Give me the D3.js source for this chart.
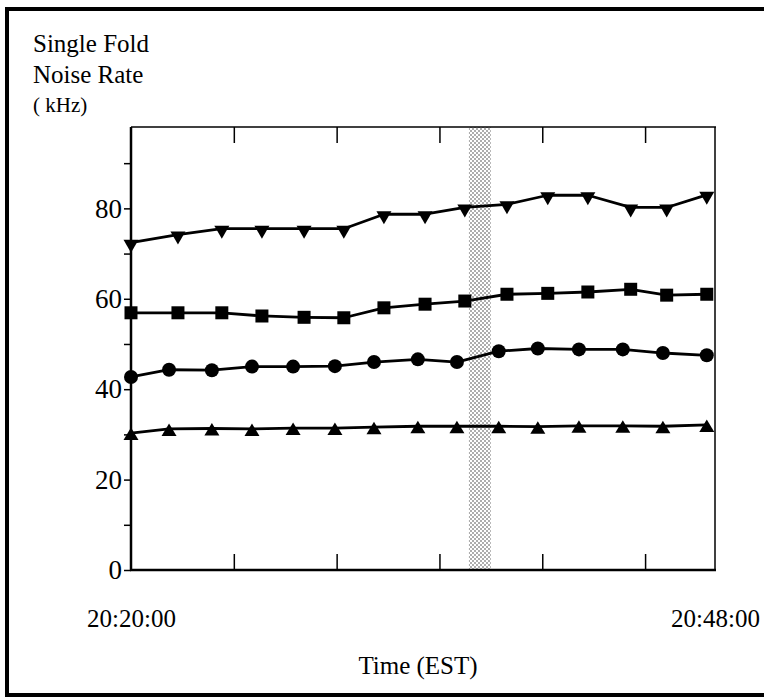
<!DOCTYPE html>
<html>
<head>
<meta charset="utf-8">
<script src="https://cdn.jsdelivr.net/npm/d3@7"></script>
<style>
body{margin:0;background:#fff;}
text{font-family:"Liberation Serif","Times New Roman",serif;fill:#000;}
</style>
</head>
<body>
<svg id="chart" width="764" height="698"></svg>
<script>
// sample times (the two lower curves sit slightly to the left in the scan)
var timesUpper=["20:20:00","20:22:17","20:24:25","20:26:22","20:28:25","20:30:21","20:32:18","20:34:18","20:36:14","20:38:17","20:40:16","20:42:13","20:44:18","20:46:03","20:48:00"];
var timesLower=["20:20:00","20:21:51","20:23:56","20:25:53","20:27:53","20:29:55","20:31:49","20:33:57","20:35:51","20:37:53","20:39:47","20:41:47","20:43:55","20:45:52","20:48:00"];

// noise rates in kHz
var triDown=[72.4,74.2,75.5,75.5,75.5,75.5,78.7,78.7,80.2,80.9,82.9,82.9,80.2,80.2,83.0];
var squares=[56.9,56.9,56.9,56.2,55.9,55.8,58.0,58.8,59.5,61.0,61.2,61.5,62.1,60.8,61.0];
var circles=[42.7,44.3,44.2,45.0,45.0,45.1,46.0,46.6,46.0,48.4,49.0,48.8,48.8,48.0,47.5];
var triUp=[30.3,31.2,31.3,31.2,31.4,31.4,31.6,31.8,31.8,31.8,31.7,31.9,31.9,31.8,32.1];

var yTicks=[0,10,20,30,40,50,60,70,80,90];
var yLabels=[0,20,40,60,80];
var xStart="20:20:00", xEnd="20:48:24";
var xEndLabels=["20:20:00","20:48:00"];
var shadeBand=["20:36:26","20:37:30"];
var titleLines=["Single Fold","Noise Rate"];
var unitLabel="( kHz)";
var xTitle="Time (EST)";

var parse=d3.timeParse("%H:%M:%S");
var svg=d3.select("#chart");

// outer frame
svg.append("rect").attr("x",7).attr("y",9).attr("width",800).attr("height",686)
  .attr("fill","none").attr("stroke","#000").attr("stroke-width",4);

var x=d3.scaleTime().domain([parse(xStart),parse(xEnd)]).range([131,715]);
var y=d3.scaleLinear().domain([0,98]).range([570,127]);

// stippled band
var defs=svg.append("defs");
var pat=defs.append("pattern").attr("id","dots").attr("patternUnits","userSpaceOnUse")
  .attr("width",4).attr("height",4);
pat.append("rect").attr("width",4).attr("height",4).attr("fill","#fff");
pat.append("circle").attr("cx",1).attr("cy",1).attr("r",0.75).attr("fill","#333");
pat.append("circle").attr("cx",3).attr("cy",3).attr("r",0.75).attr("fill","#333");

svg.append("rect")
  .attr("x",x(parse(shadeBand[0])))
  .attr("y",y(98))
  .attr("width",x(parse(shadeBand[1]))-x(parse(shadeBand[0])))
  .attr("height",y(0)-y(98))
  .attr("fill","url(#dots)");

// inward ticks every 5 min, top and bottom
var tickTimes=d3.timeMinute.every(5).range(parse("20:21:00"),parse(xEnd));

var axBottom=svg.append("g").attr("transform","translate(0,"+y(0)+")")
  .call(d3.axisBottom(x).tickValues(tickTimes).tickSizeInner(-16).tickSizeOuter(0).tickFormat(""));
axBottom.select(".domain").remove();
axBottom.selectAll("line").attr("stroke-width",1.5);

var axTop=svg.append("g").attr("transform","translate(0,"+y(98)+")")
  .call(d3.axisTop(x).tickValues(tickTimes).tickSizeInner(-16).tickSizeOuter(0).tickFormat(""));
axTop.select(".domain").remove();
axTop.selectAll("line").attr("stroke-width",1.5);

// end time labels
var axEnds=svg.append("g").attr("transform","translate(0,"+(y(0)+54)+")")
  .call(d3.axisBottom(x).tickValues(x.domain()).tickSize(0).tickFormat(function(d,i){return xEndLabels[i];}));
axEnds.select(".domain").remove();
axEnds.selectAll("text").attr("font-size",25).attr("font-family","Liberation Serif").attr("dy",0);

// left axis
var axLeft=svg.append("g").attr("transform","translate("+x.range()[0]+",0)")
  .call(d3.axisLeft(y).tickValues(yTicks).tickSizeInner(7).tickSizeOuter(0).tickPadding(2)
    .tickFormat(function(d){return yLabels.indexOf(d)>=0?d:"";}));
axLeft.select(".domain").remove();
axLeft.selectAll("line").attr("stroke-width",1.5);
axLeft.selectAll("text").attr("font-size",27).attr("font-family","Liberation Serif");

// plot frame
svg.append("line").attr("x1",131).attr("x2",131).attr("y1",y(98)).attr("y2",y(0)+1)
  .attr("stroke","#000").attr("stroke-width",2.5);
svg.append("line").attr("x1",130).attr("x2",716).attr("y1",y(0)).attr("y2",y(0))
  .attr("stroke","#000").attr("stroke-width",2.5);
svg.append("line").attr("x1",131).attr("x2",716).attr("y1",y(98)).attr("y2",y(98))
  .attr("stroke","#000").attr("stroke-width",1.5);
svg.append("line").attr("x1",715).attr("x2",715).attr("y1",y(98)).attr("y2",y(0))
  .attr("stroke","#000").attr("stroke-width",1.5);

// marker shapes
function markDown(cx,cy){return "M"+(cx-7.5)+","+(cy-3)+"L"+(cx+7.5)+","+(cy-3)+"L"+cx+","+(cy+10)+"Z";}
function markUp(cx,cy){return "M"+cx+","+(cy-5.5)+"L"+(cx+7.5)+","+(cy+7)+"L"+(cx-7.5)+","+(cy+7)+"Z";}
function markSquare(cx,cy){return "M"+(cx-6.5)+","+(cy-6.5)+"h13v13h-13Z";}

var series=[
  {vals:triDown,times:timesUpper,mark:"down"},
  {vals:squares,times:timesUpper,mark:"square"},
  {vals:circles,times:timesLower,mark:"circle"},
  {vals:triUp,times:timesLower,mark:"up"}
];

var line=d3.line().x(function(d){return x(d.t);}).y(function(d){return y(d.v);});

series.forEach(function(s){
  var pts=s.vals.map(function(v,i){return {t:parse(s.times[i]),v:v};});
  svg.append("path").datum(pts).attr("d",line).attr("fill","none")
    .attr("stroke","#000").attr("stroke-width",2.8).attr("stroke-linejoin","round");
  var g=svg.append("g");
  if(s.mark=="circle"){
    g.selectAll("circle").data(pts).enter().append("circle")
      .attr("cx",function(d){return x(d.t);}).attr("cy",function(d){return y(d.v);})
      .attr("r",7).attr("fill","#000");
  } else {
    g.selectAll("path").data(pts).enter().append("path")
      .attr("d",function(d){
        var cx=x(d.t), cy=y(d.v);
        if(s.mark=="down") return markDown(cx,cy);
        if(s.mark=="up") return markUp(cx,cy);
        return markSquare(cx,cy);
      })
      .attr("fill","#000");
  }
});

// titles
svg.append("text").attr("x",33).attr("y",52).attr("font-size",25).text(titleLines[0]);
svg.append("text").attr("x",33).attr("y",83).attr("font-size",25).text(titleLines[1]);
svg.append("text").attr("x",33).attr("y",112).attr("font-size",21).text(unitLabel);
svg.append("text").attr("x",418).attr("y",674).attr("font-size",25)
  .attr("text-anchor","middle").text(xTitle);
</script>
</body>
</html>
